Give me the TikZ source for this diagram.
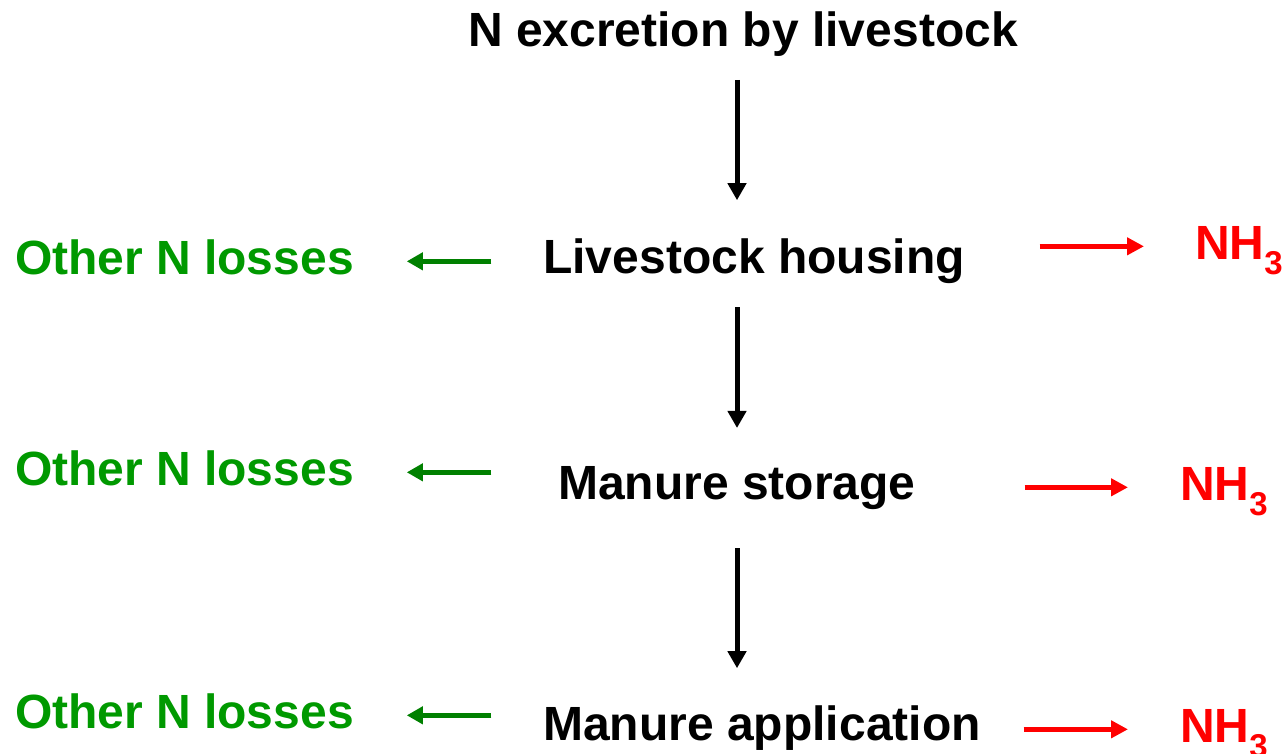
\documentclass[tikz,border=0pt]{standalone}
\usepackage{fontspec}
\setmainfont{Liberation Sans}
\usetikzlibrary{arrows.meta}
\definecolor{losstext}{RGB}{0,153,0}
\definecolor{lossarrow}{RGB}{0,128,0}
\definecolor{nhred}{RGB}{255,0,0}
\begin{document}
\begin{tikzpicture}[x=1pt,y=-1pt,
  lbl/.style={inner sep=0pt, outer sep=0pt, font=\bfseries\fontsize{48}{58}\selectfont},
  stage/.style={lbl, anchor=base, text=black},
  loss/.style={lbl, anchor=base west, text=losstext},
  nh/.style={lbl, anchor=base west, text=nhred},
  barrow/.style={draw=black, line width=5pt, -{Triangle[length=17pt,width=18pt]}},
  garrow/.style={draw=lossarrow, line width=5pt, -{Triangle[length=16pt,width=17pt]}},
  rarrow/.style={draw=nhred, line width=5pt, -{Triangle[length=17pt,width=17pt]}}]
\bfseries\fontsize{48}{58}\selectfont
\useasboundingbox (0,0) rectangle (1284,754);
\fill[white] (0,0) rectangle (1284,754);

\newcommand{\nhthree}{NH\raisebox{-15pt}{\fontsize{33}{33}\selectfont 3}}

\node[stage] (title) at (743,47) {N excretion by livestock};
\node[stage] (housing) at (754,273) {Livestock housing};
\node[stage] (storage) at (737,499) {Manure storage};
\node[stage] (application) at (762,740) {Manure application};

\node[loss] (other1) at (15,274) {Other N losses};
\node[loss] (other2) at (15,485) {Other N losses};
\node[loss] (other3) at (15,728) {Other N losses};

\node[nh] (nh1) at (1195,259) {\nhthree};
\node[nh] (nh2) at (1180,500) {\nhthree};
\node[nh] (nh3) at (1180,742) {\nhthree};

% main flow
\draw[barrow, shorten <=23pt, shorten >=38pt] (title.south -| storage.north) -- (housing.north -| storage.north);
\draw[barrow, shorten <=24pt, shorten >=38pt] (housing.south -| storage.north) -- (storage.north);
\draw[barrow, shorten <=39pt, shorten >=37pt] (storage.south) -- (storage.south |- application.north);

% other losses
\draw[garrow, shorten <=52pt, shorten >=53pt] (other1.mid east -| housing.west) -- (other1.mid east);
\draw[garrow, shorten <=67pt, shorten >=53pt] (other2.mid east -| storage.west) -- (other2.mid east);
\draw[garrow, shorten <=52pt, shorten >=53pt] (other3.mid east -| application.west) -- (other3.mid east);

% ammonia
\draw[rarrow, shorten <=75pt, shorten >=51pt] (nh1.mid west -| housing.east) -- (nh1.mid west);
\draw[rarrow, shorten <=109pt, shorten >=52pt] (nh2.mid west -| storage.east) -- (nh2.mid west);
\draw[rarrow, shorten <=43pt, shorten >=52pt] (nh3.mid west -| application.east) -- (nh3.mid west);
\end{tikzpicture}
\end{document}
